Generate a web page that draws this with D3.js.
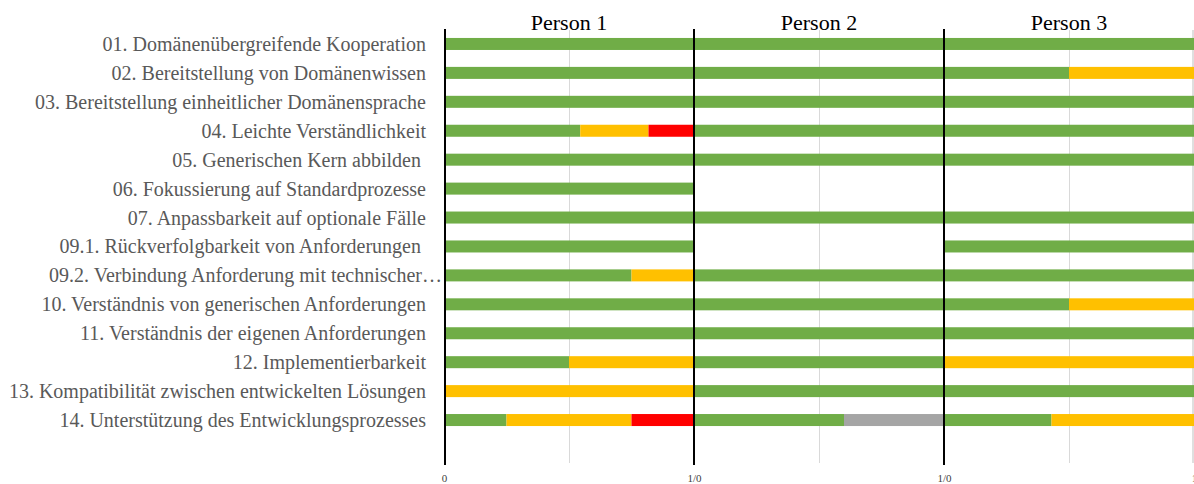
<!DOCTYPE html>
<html>
<head>
<meta charset="utf-8">
<script src="https://cdn.jsdelivr.net/npm/d3@7"></script>
<style>
  html, body { margin: 0; padding: 0; background: #fff; }
  svg { display: block; }
  .cat { white-space: pre; }
</style>
</head>
<body>
<svg id="chart" width="1194" height="484"></svg>
<script>
// Criteria (rows), top to bottom
const categories = [
  "01. Domänenübergreifende Kooperation",
  "02. Bereitstellung von Domänenwissen",
  "03. Bereitstellung einheitlicher Domänensprache",
  "04. Leichte Verständlichkeit",
  "05. Generischen Kern abbilden ",
  "06. Fokussierung auf Standardprozesse",
  "07. Anpassbarkeit auf optionale Fälle",
  "09.1. Rückverfolgbarkeit von Anforderungen ",
  "09.2. Verbindung Anforderung mit technischer…",
  "10. Verständnis von generischen Anforderungen",
  "11. Verständnis der eigenen Anforderungen",
  "12. Implementierbarkeit",
  "13. Kompatibilität zwischen entwickelten Lösungen",
  "14. Unterstützung des Entwicklungsprozesses"
];

const persons = ["Person 1", "Person 2", "Person 3"];
const tickLabels = ["0", "1/0", "1/0", "1"];
const seriesKeys = ["green", "yellow", "red", "gray"];

// Share per rating, Person 1
const p1Green  = [1, 1, 1, 0.545, 1, 1, 1, 1, 0.75, 1, 1, 0.5, 0, 0.25];
const p1Yellow = [0, 0, 0, 0.273, 0, 0, 0, 0, 0.25, 0, 0, 0.5, 1, 0.5];
const p1Red    = [0, 0, 0, 0.182, 0, 0, 0, 0, 0, 0, 0, 0, 0, 0.25];
const p1Gray   = [0, 0, 0, 0, 0, 0, 0, 0, 0, 0, 0, 0, 0, 0];

// Person 2
const p2Green  = [1, 1, 1, 1, 1, 0, 1, 0, 1, 1, 1, 1, 1, 0.6];
const p2Yellow = [0, 0, 0, 0, 0, 0, 0, 0, 0, 0, 0, 0, 0, 0];
const p2Red    = [0, 0, 0, 0, 0, 0, 0, 0, 0, 0, 0, 0, 0, 0];
const p2Gray   = [0, 0, 0, 0, 0, 0, 0, 0, 0, 0, 0, 0, 0, 0.4];

// Person 3
const p3Green  = [1, 0.5, 1, 1, 1, 0, 1, 1, 1, 0.5, 1, 0, 1, 0.43];
const p3Yellow = [0, 0.5, 0, 0, 0, 0, 0, 0, 0, 0.5, 0, 1, 0, 0.57];
const p3Red    = [0, 0, 0, 0, 0, 0, 0, 0, 0, 0, 0, 0, 0, 0];
const p3Gray   = [0, 0, 0, 0, 0, 0, 0, 0, 0, 0, 0, 0, 0, 0];

const colors = { green: "#70ad47", yellow: "#ffc000", red: "#ff0000", gray: "#a5a5a5" };

const personSeries = [
  { green: p1Green, yellow: p1Yellow, red: p1Red, gray: p1Gray },
  { green: p2Green, yellow: p2Yellow, red: p2Red, gray: p2Gray },
  { green: p3Green, yellow: p3Yellow, red: p3Red, gray: p3Gray }
];

const svg = d3.select("#chart");
const plotLeft = 444, plotRight = 1194;
const plotTop = 29.5, plotBottom = 434.5;
const serif = "'Liberation Serif', 'Times New Roman', serif";

const xPanel = d3.scaleBand().domain(persons).range([plotLeft, plotRight]);
const xVal = d3.scaleLinear().domain([0, 1]).range([0, xPanel.bandwidth()]);
const y = d3.scaleBand().domain(categories).range([plotTop, plotBottom])
  .paddingInner(0.585).paddingOuter(0.2925);

// light gridlines at the half mark of each panel
svg.append("g").selectAll("line").data(persons).join("line")
  .attr("x1", p => xPanel(p) + xVal(0.5) + 0.5)
  .attr("x2", p => xPanel(p) + xVal(0.5) + 0.5)
  .attr("y1", 30).attr("y2", 463)
  .attr("stroke", "#d9d9d9").attr("stroke-width", 1);

svg.append("line")
  .attr("x1", plotRight - 1).attr("x2", plotRight - 1)
  .attr("y1", 30).attr("y2", 463)
  .attr("stroke", "#bfbfbf").attr("stroke-width", 1);

// stacked bars per person
persons.forEach((p, pi) => {
  const rows = categories.map((c, i) => {
    const r = { cat: c };
    seriesKeys.forEach(k => { r[k] = personSeries[pi][k][i]; });
    return r;
  });
  const stacked = d3.stack().keys(seriesKeys)(rows);
  const g = svg.append("g").attr("transform", `translate(${xPanel(p)},0)`);
  g.selectAll("g").data(stacked).join("g")
    .attr("fill", s => colors[s.key])
    .selectAll("rect").data(s => s.filter(d => d[1] - d[0] > 0)).join("rect")
    .attr("x", d => xVal(d[0]))
    .attr("width", d => xVal(d[1]) - xVal(d[0]))
    .attr("y", d => y(d.data.cat))
    .attr("height", y.bandwidth());
});

// panel separators
const sepScale = d3.scaleLinear().domain([0, 3]).range([plotLeft, plotRight]);
svg.append("g").selectAll("line").data([0, 1, 2]).join("line")
  .attr("x1", v => sepScale(v) + (v === 0 ? 1 : 0))
  .attr("x2", v => sepScale(v) + (v === 0 ? 1 : 0))
  .attr("y1", 29).attr("y2", 465)
  .attr("stroke", "#000").attr("stroke-width", 2);

// panel titles
svg.append("g").selectAll("text").data(persons).join("text")
  .attr("x", p => xPanel(p) + xPanel.bandwidth() / 2)
  .attr("y", 30)
  .attr("text-anchor", "middle")
  .attr("font-family", serif)
  .attr("font-size", 22)
  .attr("fill", "#000")
  .text(p => p);

// category labels
svg.append("g").selectAll("text").data(categories).join("text")
  .attr("class", "cat")
  .attr("x", c => c.endsWith("…") ? 442 : 426)
  .attr("y", c => y(c) + y.bandwidth() / 2)
  .attr("dy", "0.35em")
  .attr("text-anchor", "end")
  .attr("font-family", serif)
  .attr("font-size", 20)
  .attr("fill", "#595959")
  .text(c => c);

// bottom axis labels at panel boundaries
const axis = d3.axisBottom(sepScale)
  .tickValues([0, 1, 2, 3])
  .tickFormat((v, i) => tickLabels[i])
  .tickSize(0).tickPadding(0);
const ax = svg.append("g").attr("transform", "translate(0,474)").call(axis);
ax.select(".domain").remove();
ax.selectAll("text")
  .attr("font-family", serif)
  .attr("font-size", 11)
  .attr("fill", "#404040");
</script>
</body>
</html>
